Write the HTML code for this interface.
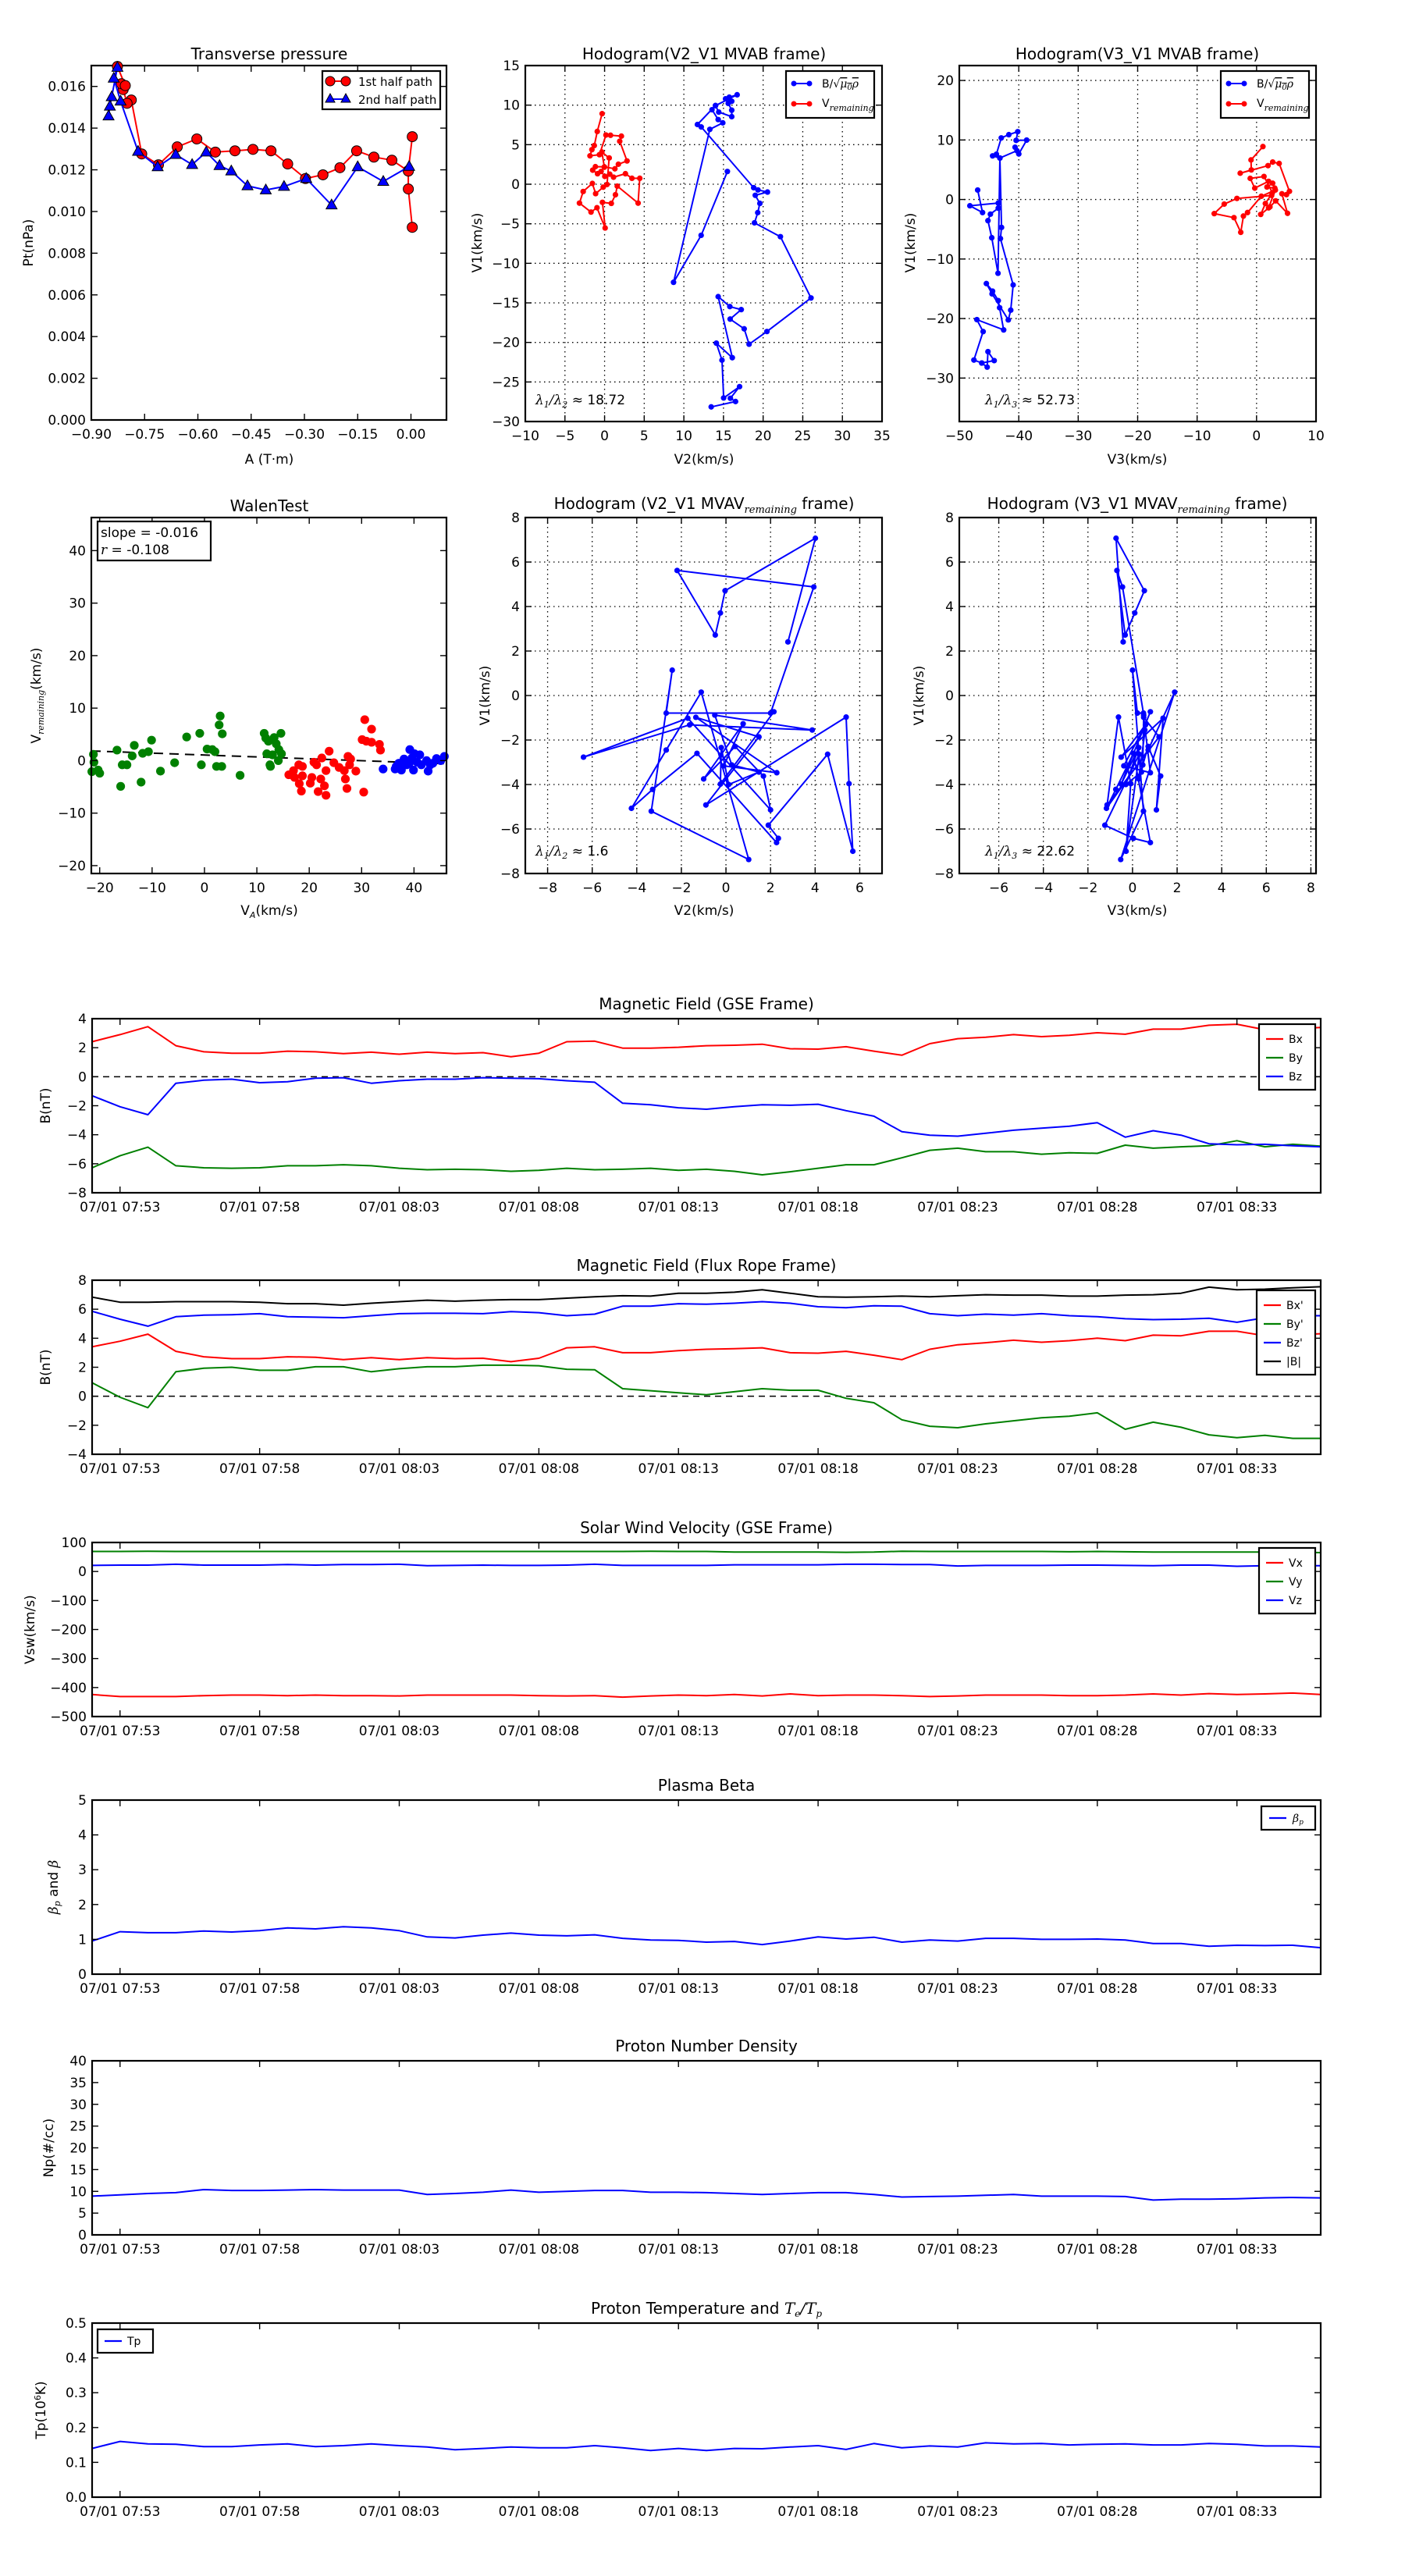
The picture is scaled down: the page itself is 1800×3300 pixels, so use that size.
<!DOCTYPE html>
<html><head><meta charset="utf-8"><title>Flux rope analysis</title>
<style>
html,body{margin:0;padding:0;background:#fff;}
svg{display:block;font-family:"DejaVu Sans","Liberation Sans",sans-serif;}
</style></head>
<body>
<svg id="fig" xmlns="http://www.w3.org/2000/svg" width="1800" height="3300" viewBox="0 0 1800 3300">
<rect x="0" y="0" width="1800" height="3300" fill="#fff"/>
</svg>
<script>
// ---------- data ----------
const tpRedA=[0.0037,-0.0074,-0.0074,0.0037,-0.0074,-0.0537,-0.1044,-0.1529,-0.2,-0.2478,-0.2971,-0.3471,-0.3941,-0.4449,-0.4956,-0.5507,-0.6029,-0.6581,-0.711,-0.7581,-0.7875,-0.7993,-0.8103,-0.8154,-0.8044,-0.8265];
const tpRedP=[0.00924,0.01108,0.01196,0.01359,0.01194,0.01246,0.01261,0.01291,0.0121,0.01176,0.01158,0.01228,0.01291,0.01298,0.01291,0.01285,0.01348,0.0131,0.01224,0.01276,0.01535,0.01519,0.01585,0.01613,0.01604,0.01696];
const tpBlueA=[-0.0051,-0.078,-0.15,-0.2235,-0.2949,-0.3574,-0.4088,-0.4603,-0.5059,-0.539,-0.5765,-0.6162,-0.6625,-0.7132,-0.7684,-0.8176,-0.8368,-0.8265,-0.8426,-0.8478,-0.8515];
const tpBlueP=[0.01216,0.01144,0.01214,0.01031,0.01158,0.0112,0.01103,0.01123,0.01194,0.0122,0.01285,0.01225,0.01273,0.01214,0.01288,0.01529,0.01639,0.01691,0.0155,0.01505,0.01458];

const h2BV2=[15.49,12.18,8.70,13.28,14.91,14.33,13.55,13.99,14.40,16.04,16.04,15.60,16.04,15.26,15.73,16.72,13.99,11.71,12.19,18.81,19.35,20.55,19.01,19.59,19.32,18.91,22.18,26.04,20.48,18.23,17.61,15.84,17.24,15.80,14.33,16.11,14.10,14.81,15.02,17.03,15.87,16.52,13.45];
const h2BV1=[1.61,-6.46,-12.40,6.94,7.76,8.17,9.42,9.94,9.12,8.54,9.36,10.22,10.49,10.80,11.0,11.31,9.94,7.55,7.24,-0.44,-0.72,-0.99,-1.40,-2.42,-3.59,-4.88,-6.63,-14.38,-18.62,-20.22,-18.28,-17.05,-15.85,-15.47,-14.21,-21.93,-20.09,-22.24,-27.02,-25.59,-27.06,-27.47,-28.15];
const h2RV2=[-0.31,-0.92,-1.30,-1.60,-1.84,-0.65,0.17,0.75,2.12,1.91,2.83,1.74,1.30,-0.03,-1.16,-1.50,-0.89,-0.44,0.03,0.65,1.13,2.63,3.45,4.44,4.23,1.60,1.37,0.85,-0.27,0.07,-0.96,-1.71,-3.17,-2.70,-1.54,-1.13,-0.17,0.31,0.58,-0.34,-0.03];
const h2RV1=[8.92,6.67,4.89,4.37,3.59,3.73,6.22,6.19,6.08,5.43,2.94,2.53,1.95,2.19,2.22,1.78,1.33,1.61,0.99,1.27,0.89,1.33,0.75,0.75,-2.39,-0.24,-1.33,-2.42,-2.29,-5.53,-2.97,-3.52,-2.39,-0.92,0.10,-1.19,-0.37,-0.03,3.32,4.07,2.15];

const h3BV3=[-46.91,-46.09,-48.22,-43.45,-43.45,-44.77,-45.18,-44.54,-43.49,-43.17,-44.40,-43.76,-42.94,-41.67,-40.17,-40.44,-38.67,-39.99,-40.62,-40.30,-43.17,-42.90,-43.08,-40.94,-41.35,-41.76,-44.49,-45.45,-44.40,-43.45,-43.22,-42.54,-47.04,-45.99,-47.54,-46.22,-45.31,-45.18,-44.13,-46.22];
const h3BV1=[1.59,-2.19,-1.05,-0.6,-1.46,-2.46,-3.55,-6.42,-12.39,6.97,7.33,7.61,10.34,10.89,11.39,9.93,9.98,7.65,8.79,8.20,6.97,-4.69,-6.56,-14.35,-18.59,-20.23,-15.85,-14.12,-15.40,-16.99,-18.18,-21.91,-20.18,-22.19,-26.97,-27.47,-28.16,-25.56,-27.06,-27.47];
const h3RV3=[1.07,-0.93,-0.88,-2.75,1.93,2.71,3.80,5.53,5.03,4.26,5.21,3.21,2.25,0.70,1.48,2.66,1.25,-1.07,-0.30,2.02,2.71,1.75,3.07,2.53,-3.30,-5.44,-7.12,-3.80,-2.66,-2.21,-1.52,0.80,3.16,2.02];
const h3RV1=[8.89,6.65,4.97,4.42,5.69,6.29,6.06,1.37,0.82,0.96,-2.32,-0.23,-1.23,-2.51,-0.68,1.14,3.87,3.55,1.91,3.05,2.73,2.10,1.91,0.68,0.18,-0.77,-2.37,-3.05,-5.51,-2.78,-2.19,0.55,1.59,-1.41];

const walenGreenX=[-21.2,-21.1,-20.3,-20,-21.5,-16.7,-16,-15.7,-14.8,-13.8,-13.4,-12.1,-11.8,-10.7,-10.1,-8.4,-5.7,-3.4,-0.9,-0.6,0.5,1.5,2.0,2.3,3.3,3.0,2.8,3.4,6.8,11.4,11.7,12.2,11.9,12.6,13.3,13.7,14.6,14.2,14.7,14.1,13.0,12.5];
const walenGreenY=[1.2,-0.3,-1.8,-2.4,-2.1,2.0,-4.9,-0.8,-0.8,0.9,2.9,-4.1,1.4,1.7,3.9,-2.0,-0.4,4.5,5.2,-0.8,2.2,2.1,1.7,-1.1,-1.1,8.5,6.8,5.1,-2.8,5.2,4.3,3.7,1.3,-1.1,4.4,3.2,5.2,2.1,1.3,0,1.1,-0.8];
const walenRedX=[16.1,17.0,17.2,18.0,18.7,18.1,18.5,18.7,20.2,20.5,20.9,21.4,21.7,22.2,22.4,23.2,23.2,22.9,23.8,24.7,25.7,26.9,27.2,27.4,27.9,28.9,26.7,30.4,30.1,30.6,31.9,30.9,31.9,33.4,33.6,27.7];
const walenRedY=[-2.7,-1.9,-3.2,-0.8,-1.1,-4.4,-5.8,-2.9,-4.3,-3.2,-0.3,-0.8,-5.9,-3.5,0.5,-1.9,-6.6,-4.8,1.8,-0.4,-1.3,-3.5,-5.3,0.8,0.3,-2.0,-1.9,-6.0,4.0,7.8,6.0,3.7,3.5,3.1,2.0,-0.8];
const walenBlueX=[34.1,36.4,37.6,38.1,38.6,39.2,39.9,40.1,40.6,41.1,41.4,42.4,42.7,43.6,44.3,45.1,45.8,37.1,39.1,36.6,43.1,39.6];
const walenBlueY=[-1.6,-1.6,-1.8,0.3,-0.8,2.1,-1.8,1.3,-0.3,1.1,-0.8,0,-2.0,-0.5,0.4,0,0.8,-0.5,-0.5,-1.1,-0.8,0.5];
const walenSlope=-0.016;
const walenIntercept=0.29;

const mvV2=[2.78,4.01,-0.04,-0.25,-0.48,-2.19,3.94,2.0,-2.68,-2.41,-3.35,1.02,-1.11,-2.68,-4.24,-3.29,-1.30,2.27,2.35,1.90,4.56,5.69,5.52,5.39,-0.9,1.48,-1.35,2.28,-0.10,0.77,-1.0,0.41,1.68,2.0,-1.71,-6.39,-1.63,3.87,-0.5,0.26,1.48,0.12,-0.21,-0.25,2.15];
const mvV1=[2.41,7.07,4.71,3.71,2.72,5.62,4.88,-0.79,-0.79,1.14,-5.20,-7.37,0.15,-2.45,-5.07,-4.22,-2.60,-6.61,-6.42,-5.83,-2.64,-7.0,-3.96,-0.97,-4.92,-1.86,-0.98,-3.47,-3.16,-1.27,-3.75,-2.29,-3.62,-5.14,-1.02,-2.77,-1.32,-1.55,-0.88,-3.12,-3.44,-4.0,-2.34,-3.98,-0.73];
const mvV3=[-0.42,-0.74,0.53,0.10,-0.33,-0.70,-0.45,0.49,0.22,0.0,0.49,-0.53,1.89,0.70,-1.17,-0.75,0.04,0.80,0.04,-1.24,0.3,-0.29,-0.08,-0.63,-1.14,1.19,0.5,0.80,-0.39,0.6,0.28,0.70,1.26,1.07,1.37,-0.51,0.58,0.55,0.5,0.46,0.40,-0.3,0.28,-0.51,0.80];

const timeMin=[0,1,2,3,4,5,6,7,8,9,10,11,12,13,14,15,16,17,18,19,20,21,22,23,24,25,26,27,28,29,30,31,32,33,34,35,36,37,38,39,40,41,42,43,44];
const timeTicks=[1,6,11,16,21,26,31,36,41];
const timeTickLabels=['07/01 07:53','07/01 07:58','07/01 08:03','07/01 08:08','07/01 08:13','07/01 08:18','07/01 08:23','07/01 08:28','07/01 08:33'];
const bx=[2.41,2.9,3.45,2.14,1.72,1.62,1.62,1.76,1.72,1.59,1.69,1.55,1.69,1.59,1.66,1.38,1.62,2.41,2.45,1.97,1.97,2.03,2.14,2.17,2.24,1.93,1.9,2.07,1.76,1.48,2.28,2.62,2.72,2.9,2.76,2.86,3.03,2.93,3.28,3.28,3.55,3.62,3.24,3.3,3.4];
const by=[-6.28,-5.45,-4.86,-6.14,-6.28,-6.31,-6.28,-6.14,-6.14,-6.07,-6.14,-6.31,-6.41,-6.38,-6.41,-6.52,-6.45,-6.31,-6.41,-6.38,-6.31,-6.45,-6.38,-6.52,-6.76,-6.55,-6.31,-6.07,-6.07,-5.59,-5.07,-4.93,-5.17,-5.17,-5.34,-5.24,-5.28,-4.72,-4.93,-4.83,-4.76,-4.41,-4.83,-4.66,-4.79];
const bz=[-1.31,-2.07,-2.62,-0.45,-0.24,-0.17,-0.41,-0.34,-0.1,-0.07,-0.45,-0.28,-0.17,-0.17,-0.07,-0.1,-0.14,-0.28,-0.38,-1.83,-1.93,-2.14,-2.24,-2.07,-1.93,-1.97,-1.9,-2.34,-2.72,-3.79,-4.03,-4.1,-3.9,-3.69,-3.55,-3.41,-3.17,-4.17,-3.72,-4.03,-4.62,-4.69,-4.66,-4.76,-4.83];
const bxp=[3.41,3.79,4.28,3.1,2.72,2.59,2.59,2.72,2.69,2.52,2.66,2.52,2.66,2.59,2.62,2.38,2.62,3.34,3.41,3.0,3.0,3.14,3.24,3.28,3.34,3.0,2.97,3.1,2.83,2.52,3.24,3.55,3.69,3.86,3.72,3.83,4.0,3.83,4.21,4.17,4.48,4.48,4.17,4.24,4.31];
const byp=[0.93,-0.07,-0.79,1.69,1.93,2.0,1.79,1.79,2.03,2.03,1.69,1.9,2.03,2.03,2.14,2.14,2.1,1.86,1.83,0.52,0.38,0.24,0.1,0.31,0.52,0.41,0.41,-0.14,-0.45,-1.62,-2.07,-2.17,-1.9,-1.69,-1.48,-1.38,-1.14,-2.28,-1.79,-2.14,-2.66,-2.86,-2.69,-2.9,-2.9];
const bzp=[5.86,5.31,4.83,5.48,5.59,5.62,5.69,5.48,5.45,5.41,5.55,5.69,5.72,5.72,5.69,5.83,5.76,5.55,5.66,6.21,6.21,6.38,6.34,6.41,6.52,6.41,6.17,6.1,6.24,6.21,5.69,5.55,5.66,5.59,5.69,5.55,5.48,5.34,5.28,5.31,5.38,5.1,5.41,5.55,5.55];
const btot=[6.83,6.48,6.48,6.52,6.52,6.52,6.48,6.38,6.38,6.28,6.41,6.52,6.62,6.55,6.62,6.66,6.66,6.76,6.86,6.93,6.9,7.1,7.1,7.17,7.34,7.1,6.86,6.83,6.86,6.9,6.86,6.93,7.0,6.97,6.97,6.9,6.9,6.97,7.0,7.1,7.52,7.34,7.38,7.48,7.55];
const vx=[-424,-431,-431,-431,-428,-426,-426,-428,-426,-428,-428,-429,-426,-426,-426,-426,-428,-429,-428,-433,-429,-426,-428,-424,-429,-422,-428,-426,-426,-428,-431,-429,-426,-426,-426,-428,-428,-426,-422,-426,-421,-424,-422,-419,-424];
const vy=[69,69,70,69,69,69,69,69,69,69,69,69,69,69,69,69,69,69,69,69,70,69,69,67,67,67,67,66,67,70,69,69,69,69,69,68,69,68,67,67,67,67,67,67,65];
const vz=[21,22,22,25,22,22,22,24,22,24,24,25,20,21,22,21,21,22,25,21,21,21,21,23,23,23,23,25,25,24,24,19,21,21,21,22,22,21,20,22,22,18,20,20,20];
const betaP=[0.95,1.22,1.19,1.19,1.24,1.21,1.25,1.33,1.3,1.36,1.33,1.25,1.07,1.04,1.12,1.18,1.12,1.1,1.13,1.03,0.98,0.97,0.92,0.94,0.85,0.95,1.07,1.01,1.06,0.92,0.98,0.95,1.03,1.03,1.0,1.0,1.01,0.98,0.88,0.88,0.8,0.83,0.82,0.83,0.76];
const np=[8.9,9.2,9.5,9.7,10.4,10.2,10.2,10.3,10.4,10.3,10.3,10.3,9.3,9.5,9.8,10.3,9.8,10.0,10.2,10.2,9.8,9.8,9.7,9.5,9.3,9.5,9.7,9.7,9.3,8.7,8.8,8.9,9.1,9.3,8.9,8.9,8.9,8.8,8.0,8.2,8.2,8.3,8.5,8.6,8.5];
const tp=[0.14,0.16,0.153,0.152,0.145,0.145,0.15,0.153,0.145,0.148,0.153,0.148,0.144,0.136,0.14,0.144,0.142,0.142,0.148,0.142,0.134,0.14,0.134,0.14,0.139,0.144,0.148,0.137,0.154,0.142,0.147,0.144,0.156,0.153,0.154,0.15,0.152,0.153,0.15,0.15,0.154,0.152,0.147,0.147,0.144];

// ---------- helpers ----------
const NS='http://www.w3.org/2000/svg';
const svg=document.getElementById('fig');
function mk(tag,attrs,parent){const e=document.createElementNS(NS,tag);for(const k in attrs)e.setAttribute(k,attrs[k]);(parent||svg).appendChild(e);return e;}
function fmt(v,d){const s=Math.abs(v).toFixed(d);return (v<0?'\u2212':'')+s;}
function axes(name,x0,x1,y0,y1,xmin,xmax,ymin,ymax){
  const g=mk('g',{});
  
  
  return {g,x0,x1,y0,y1,sx:v=>x0+(v-xmin)/(xmax-xmin)*(x1-x0),sy:v=>y1-(v-ymin)/(ymax-ymin)*(y1-y0)};
}
function grid(ax,xt,yt){
  const gg=mk('g',{stroke:'#000','stroke-width':1.3,'stroke-dasharray':'1.5,4.5',fill:'none'},ax.g);
  
  
  xt.forEach(v=>{const X=ax.sx(v);mk('line',{x1:X,x2:X,y1:ax.y0,y2:ax.y1},gg);});
  yt.forEach(v=>{const Y=ax.sy(v);mk('line',{x1:ax.x0,x2:ax.x1,y1:Y,y2:Y},gg);});
}
function frame(ax,xt,xl,yt,yl,fs){
  fs=fs||17;
  const tg=mk('g',{stroke:'#000','stroke-width':1.4},ax.g);
  
  
  xt.forEach((v,i)=>{const X=ax.sx(v);
    mk('line',{x1:X,x2:X,y1:ax.y1,y2:ax.y1-8},tg);mk('line',{x1:X,x2:X,y1:ax.y0,y2:ax.y0+8},tg);
    const t=mk('text',{x:X,y:ax.y1+24,'text-anchor':'middle','font-size':fs,fill:'#000',stroke:'none'},ax.g);
    
    
    t.textContent=xl[i];});
  yt.forEach((v,i)=>{const Y=ax.sy(v);
    mk('line',{x1:ax.x0,x2:ax.x0+8,y1:Y,y2:Y},tg);mk('line',{x1:ax.x1,x2:ax.x1-8,y1:Y,y2:Y},tg);
    const t=mk('text',{x:ax.x0-7,y:Y+6,'text-anchor':'end','font-size':fs,fill:'#000'},ax.g);
    
    
    t.textContent=yl[i];});
  const r=mk('rect',{x:ax.x0,y:ax.y0,width:ax.x1-ax.x0,height:ax.y1-ax.y0,fill:'none',stroke:'#000','stroke-width':2.2},ax.g);
  
  
}
function line(ax,xs,ys,color,name,dots,w){
  const pts=xs.map((x,i)=>ax.sx(x).toFixed(1)+','+ax.sy(ys[i]).toFixed(1)).join(' ');
  const p=mk('polyline',{points:pts,fill:'none',stroke:color,'stroke-width':w||2,'stroke-linejoin':'round'},ax.g);
  
  
  if(dots){xs.forEach((x,i)=>{const c=mk('circle',{cx:ax.sx(x),cy:ax.sy(ys[i]),r:dots,fill:color},ax.g);
    
    });}
}
function label(txt,x,y,fs,rot,name,anchor){
  const t=mk('text',{x:x,y:y,'font-size':fs,'text-anchor':anchor||'middle',fill:'#000'});
  if(rot)t.setAttribute('transform','rotate(-90 '+x+' '+y+')');
  
  
  t.innerHTML=txt;return t;
}
function legendBox(x,y,w,h,name){
  const r=mk('rect',{x:x,y:y,width:w,height:h,fill:'#fff',stroke:'#000','stroke-width':2.2});
  
  
}
function range(a,b,s){const o=[];for(let v=a;v<=b+1e-9;v+=s)o.push(+v.toFixed(6));return o;}

// ---------- Panel 1: transverse pressure ----------
{
 const ax=axes('transverse-pressure-plot',117,572,84,538,-0.9,0.1,0,0.017);
 const xt=range(-0.9,0,0.15), yt=range(0,0.016,0.002);
 frame(ax,xt,xt.map(v=>fmt(v,2)),yt,yt.map(v=>fmt(v,3)));
 line(ax,tpRedA,tpRedP,'#ff0000','first-half-path');
 tpRedA.forEach((a,i)=>{const c=mk('circle',{cx:ax.sx(a),cy:ax.sy(tpRedP[i]),r:6.5,fill:'#ff0000',stroke:'#000','stroke-width':1},ax.g);
   
   });
 line(ax,tpBlueA,tpBlueP,'#0000ff','second-half-path');
 tpBlueA.forEach((a,i)=>{const X=ax.sx(a),Y=ax.sy(tpBlueP[i]);
   const t=mk('polygon',{points:`${X},${Y-7.5} ${X-7},${Y+5} ${X+7},${Y+5}`,fill:'#0000ff',stroke:'#000','stroke-width':1},ax.g);
   
   });
 label('Transverse pressure',345,76,20,0,'chart-title');
 label('A (T·m)',345,594,17,0,'x-axis-title');
 label('Pt(nPa)',42,311,17,1,'y-axis-title');
 legendBox(413,91,151,49,'legend');
 mk('line',{x1:423,x2:443,y1:104,y2:104,stroke:'#f00','stroke-width':2});
 mk('circle',{cx:423,cy:104,r:6,fill:'#f00',stroke:'#000'});mk('circle',{cx:443,cy:104,r:6,fill:'#f00',stroke:'#000'});
 label('1st half path',459,110,15,0,'legend-entry-first','start');
 mk('line',{x1:423,x2:443,y1:127,y2:127,stroke:'#00f','stroke-width':2});
 mk('polygon',{points:'423,120 417,131 429,131',fill:'#00f',stroke:'#000'});mk('polygon',{points:'443,120 437,131 449,131',fill:'#00f',stroke:'#000'});
 label('2nd half path',459,133,15,0,'legend-entry-second','start');
}

const bLeg='B/√<tspan text-decoration="overline" font-style="italic" font-family="DejaVu Serif">μ<tspan font-size="10" dy="3">0</tspan><tspan dy="-3">ρ</tspan></tspan>';
const vLeg='V<tspan font-size="11" font-style="italic" font-family="DejaVu Serif" dy="5">remaining</tspan>';
function hodoLegend(x){
  legendBox(x,91,113,60,'legend');
  mk('line',{x1:x+10,x2:x+30,y1:107,y2:107,stroke:'#00f','stroke-width':2});
  mk('circle',{cx:x+10,cy:107,r:3.5,fill:'#00f'});mk('circle',{cx:x+30,cy:107,r:3.5,fill:'#00f'});
  label(bLeg,x+46,112,14,0,'legend-entry-b','start');
  mk('line',{x1:x+10,x2:x+30,y1:133,y2:133,stroke:'#f00','stroke-width':2});
  mk('circle',{cx:x+10,cy:133,r:3.5,fill:'#f00'});mk('circle',{cx:x+30,cy:133,r:3.5,fill:'#f00'});
  label(vLeg,x+46,137,14,0,'legend-entry-v','start');
}
function lam(a,b,val,x,y){
  label('<tspan font-family="DejaVu Serif" font-style="italic">λ<tspan font-size="11" dy="4">'+a+'</tspan><tspan dy="-4">/λ</tspan><tspan font-size="11" dy="4">'+b+'</tspan></tspan><tspan dy="-4"> ≈ '+val+'</tspan>',x,y,17,0,'eigenvalue-ratio','start');
}

// ---------- Panel 2 ----------
{
 const ax=axes('hodogram-v2-v1-mvab',673,1130,84,540,-10,35,-30,15);
 const xt=range(-10,35,5), yt=range(-30,15,5);
 grid(ax,xt,yt);
 line(ax,h2BV2,h2BV1,'#0000ff','b-hodogram',3.6);
 line(ax,h2RV2,h2RV1,'#ff0000','v-remaining-hodogram',3.6);
 frame(ax,xt,xt.map(v=>fmt(v,0)),yt,yt.map(v=>fmt(v,0)));
 label('Hodogram(V2_V1 MVAB frame)',902,76,20,0,'chart-title');
 label('V2(km/s)',902,594,17,0,'x-axis-title');
 label('V1(km/s)',617,311,17,1,'y-axis-title');
 hodoLegend(1007);
 lam(1,2,'18.72',686,518);
}
// ---------- Panel 3 ----------
{
 const ax=axes('hodogram-v3-v1-mvab',1229,1686,84,540,-50,10,-37.3,22.5);
 const xt=range(-50,10,10), yt=range(-30,20,10);
 grid(ax,xt,yt);
 line(ax,h3BV3,h3BV1,'#0000ff','b-hodogram',3.6);
 line(ax,h3RV3,h3RV1,'#ff0000','v-remaining-hodogram',3.6);
 frame(ax,xt,xt.map(v=>fmt(v,0)),yt,yt.map(v=>fmt(v,0)));
 label('Hodogram(V3_V1 MVAB frame)',1457,76,20,0,'chart-title');
 label('V3(km/s)',1457,594,17,0,'x-axis-title');
 label('V1(km/s)',1172,311,17,1,'y-axis-title');
 hodoLegend(1564);
 lam(1,3,'52.73',1262,518);
}
// ---------- Walen ----------
{
 const ax=axes('walen-test-plot',117,572,663,1119,-21.6,46.2,-21.5,46.3);
 const xt=range(-20,40,10), yt=range(-20,40,10);
 const dl=mk('line',{x1:ax.sx(-21.6),y1:ax.sy(walenIntercept+walenSlope*-21.6*4.5),x2:ax.sx(46.2),y2:ax.sy(walenIntercept+walenSlope*46.2*1.2),stroke:'#000','stroke-width':2,'stroke-dasharray':'12,8'},ax.g);
 
 
 [[walenGreenX,walenGreenY,'#008000','green'],[walenRedX,walenRedY,'#ff0000','red'],[walenBlueX,walenBlueY,'#0000ff','blue']].forEach(s=>{
   s[0].forEach((x,i)=>{const c=mk('circle',{cx:ax.sx(x),cy:ax.sy(s[1][i]),r:5.6,fill:s[2]},ax.g);
     
     });});
 frame(ax,xt,xt.map(v=>fmt(v,0)),yt,yt.map(v=>fmt(v,0)));
 label('WalenTest',345,655,20,0,'chart-title');
 label('V<tspan font-size="11" font-style="italic" dy="4">A</tspan><tspan dy="-4">(km/s)</tspan>',345,1172,17,0,'x-axis-title');
 label('V<tspan font-size="11" font-style="italic" font-family="DejaVu Serif" dy="4">remaining</tspan><tspan dy="-4">(km/s)</tspan>',52,891,17,1,'y-axis-title');
 legendBox(125,668,145,50,'fit-stats-box');
 label('slope = -0.016',129,688,17,0,'slope-text','start');
 label('<tspan font-style="italic" font-family="DejaVu Serif">r</tspan> = -0.108',129,710,17,0,'r-text','start');
}
// ---------- Panel 5 ----------
{
 const ax=axes('hodogram-v2-v1-mvav',673,1130,663,1119,-9,7,-8,8);
 const xt=range(-8,6,2), yt=range(-8,8,2);
 grid(ax,xt,yt);
 line(ax,mvV2,mvV1,'#0000ff','v-remaining-hodogram',3.6);
 frame(ax,xt,xt.map(v=>fmt(v,0)),yt,yt.map(v=>fmt(v,0)));
 label('Hodogram (V2_V1 MVAV<tspan font-size="13" font-style="italic" font-family="DejaVu Serif" dy="5">remaining</tspan><tspan dy="-5"> frame)</tspan>',902,652,20,0,'chart-title');
 label('V2(km/s)',902,1172,17,0,'x-axis-title');
 label('V1(km/s)',627,891,17,1,'y-axis-title');
 lam(1,2,'1.6',686,1096);
}
// ---------- Panel 6 ----------
{
 const ax=axes('hodogram-v3-v1-mvav',1229,1686,663,1119,-7.77,8.23,-8,8);
 const xt=range(-6,8,2), yt=range(-8,8,2);
 grid(ax,xt,yt);
 line(ax,mvV3,mvV1,'#0000ff','v-remaining-hodogram',3.6);
 frame(ax,xt,xt.map(v=>fmt(v,0)),yt,yt.map(v=>fmt(v,0)));
 label('Hodogram (V3_V1 MVAV<tspan font-size="13" font-style="italic" font-family="DejaVu Serif" dy="5">remaining</tspan><tspan dy="-5"> frame)</tspan>',1457,652,20,0,'chart-title');
 label('V3(km/s)',1457,1172,17,0,'x-axis-title');
 label('V1(km/s)',1183,891,17,1,'y-axis-title');
 lam(1,3,'22.62',1262,1096);
}
// ---------- Time series ----------
function tsPanel(name,y0,y1,ymin,ymax,ystep,ydec,title,ylab,ylabX,series,zeroLine){
  const ax=axes(name,118,1692,y0,y1,0,44,ymin,ymax);
  if(zeroLine){const z=mk('line',{x1:118,x2:1692,y1:ax.sy(0),y2:ax.sy(0),stroke:'#000','stroke-width':1.5,'stroke-dasharray':'8,6'},ax.g);
    
    }
  series.forEach(s=>line(ax,timeMin,s[0],s[1],s[2],0,2));
  const yt=range(ymin,ymax,ystep);
  frame(ax,timeTicks,timeTickLabels,yt,yt.map(v=>fmt(v,ydec)));
  label(title,905,y0-12,20,0,'chart-title');
  label(ylab,ylabX,(y0+y1)/2,17,1,'y-axis-title');
  return ax;
}
function tsLegend(x,y,w,entries){
  legendBox(x,y,w,entries.length*24+12,'legend');
  entries.forEach((e,i)=>{const yy=y+19+i*24;
    mk('line',{x1:x+9,x2:x+31,y1:yy,y2:yy,stroke:e[1],'stroke-width':2.2});
    label(e[0],x+38,yy+5,14,0,'legend-entry','start');});
}
tsPanel('magnetic-field-gse',1305,1528,-8,4,2,0,'Magnetic Field (GSE Frame)','B(nT)',64,[[bx,'#ff0000','bx-line'],[by,'#008000','by-line'],[bz,'#0000ff','bz-line']],true);
tsLegend(1613,1312,72,[['Bx','#f00'],['By','#008000'],['Bz','#00f']]);
tsPanel('magnetic-field-flux-rope',1640,1863,-4,8,2,0,'Magnetic Field (Flux Rope Frame)','B(nT)',64,[[bxp,'#ff0000','bx-prime-line'],[byp,'#008000','by-prime-line'],[bzp,'#0000ff','bz-prime-line'],[btot,'#000000','b-magnitude-line']],true);
tsLegend(1610,1653,75,[["Bx'",'#f00'],["By'",'#008000'],["Bz'",'#00f'],['|B|','#000']]);
tsPanel('solar-wind-velocity',1976,2199,-500,100,100,0,'Solar Wind Velocity (GSE Frame)','Vsw(km/s)',44,[[vx,'#ff0000','vx-line'],[vy,'#008000','vy-line'],[vz,'#0000ff','vz-line']],false);
tsLegend(1613,1983,72,[['Vx','#f00'],['Vy','#008000'],['Vz','#00f']]);
tsPanel('plasma-beta',2306,2529,0,5,1,0,'Plasma Beta','<tspan font-style="italic" font-family="DejaVu Serif">β<tspan font-size="11" dy="3">p</tspan></tspan><tspan dy="-3"> and </tspan><tspan font-style="italic" font-family="DejaVu Serif">β</tspan>',74,[[betaP,'#0000ff','beta-p-line']],false);
legendBox(1616,2314,69,30,'legend');
mk('line',{x1:1626,x2:1648,y1:2329,y2:2329,stroke:'#00f','stroke-width':2.2});
label('<tspan font-style="italic" font-family="DejaVu Serif">β<tspan font-size="9" dy="3">p</tspan></tspan>',1656,2334,14,0,'legend-entry','start');
tsPanel('proton-number-density',2640,2863,0,40,5,0,'Proton Number Density','Np(#/cc)',68,[[np,'#0000ff','np-line']],false);
tsPanel('proton-temperature',2976,3199,0,0.5,0.1,1,'Proton Temperature and <tspan font-style="italic" font-family="DejaVu Serif">T<tspan font-size="12" dy="4">e</tspan><tspan dy="-4">/T</tspan><tspan font-size="12" dy="4">p</tspan></tspan>','Tp(10<tspan font-size="11" dy="-6">6</tspan><tspan dy="6">K)</tspan>',58,[[tp,'#0000ff','tp-line']],false);
legendBox(125,2984,71,30,'legend');
mk('line',{x1:134,x2:156,y1:2999,y2:2999,stroke:'#00f','stroke-width':2.2});
label('Tp',163,3004,14,0,'legend-entry','start');
</script>
</body></html>
